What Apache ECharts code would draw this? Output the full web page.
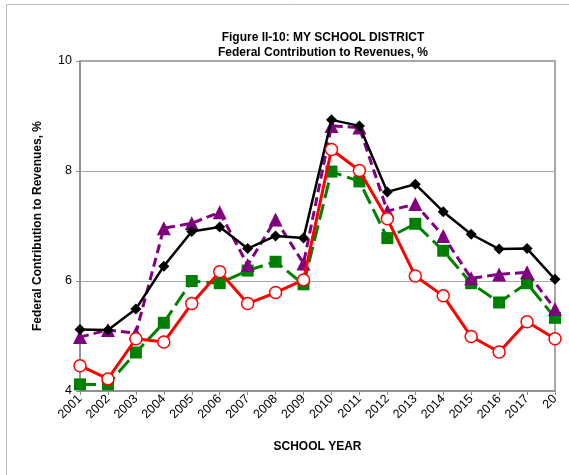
<!DOCTYPE html>
<html>
<head>
<meta charset="utf-8">
<script src="https://cdn.jsdelivr.net/npm/echarts@6/dist/echarts.min.js"></script>
<style>
  html, body { margin: 0; padding: 0; background: #fff; }
  #chart { width: 569px; height: 475px; }
</style>
</head>
<body>
<div id="chart"></div>
<script>
// school years on the x axis (last label is cut short in the original)
const years = ['2001', '2002', '2003', '2004', '2005', '2006', '2007', '2008', '2009',
  '2010', '2011', '2012', '2013', '2014', '2015', '2016', '2017', '20'];

// four series, federal share of revenues in %
const blackSeries = [5.12, 5.11, 5.49, 6.27, 6.90, 6.98, 6.59, 6.82, 6.78,
  8.93, 8.82, 7.62, 7.76, 7.26, 6.85, 6.58, 6.59, 6.03];
const purpleSeries = [4.98, 5.11, 5.05, 6.96, 7.05, 7.25, 6.29, 7.12, 6.32,
  8.82, 8.79, 7.27, 7.40, 6.82, 6.05, 6.12, 6.16, 5.49];
const greenSeries = [4.12, 4.12, 4.70, 5.24, 6.00, 5.96, 6.19, 6.35, 5.94,
  7.99, 7.81, 6.78, 7.04, 6.55, 5.96, 5.61, 5.96, 5.33];
const redSeries = [4.46, 4.22, 4.95, 4.89, 5.59, 6.17, 5.59, 5.79, 6.02,
  8.39, 8.01, 7.13, 6.09, 5.73, 4.99, 4.71, 5.26, 4.95];

const yTicks = { min: 4, max: 10, interval: 2 };

const chart = echarts.init(document.getElementById('chart'));

const option = {
  animation: false,
  textStyle: { fontFamily: 'Liberation Sans, Arial, sans-serif' },
  graphic: [{
    type: 'rect',
    shape: { x: 6.5, y: 4.5, width: 700, height: 700 },
    style: { fill: 'none', stroke: '#bdbdbd', lineWidth: 1 },
    silent: true
  }],
  title: {
    text: 'Figure II-10: MY SCHOOL DISTRICT\nFederal Contribution to Revenues, %',
    left: 318,
    top: 25,
    textAlign: 'center',
    textStyle: { fontSize: 12, fontWeight: 'bold', color: '#000', lineHeight: 15 }
  },
  grid: {
    left: 80,
    right: 14,
    top: 61,
    bottom: 84,
    show: true,
    borderColor: '#8c8c8c',
    borderWidth: 1.5
  },
  xAxis: {
    type: 'category',
    data: years,
    boundaryGap: false,
    name: 'SCHOOL YEAR',
    nameLocation: 'middle',
    nameGap: 50,
    nameTextStyle: { fontSize: 12, fontWeight: 'bold', color: '#000' },
    axisLine: { lineStyle: { color: '#8c8c8c', width: 1.5 } },
    axisTick: { show: true, length: 4, alignWithLabel: true, lineStyle: { color: '#8c8c8c' } },
    axisLabel: { rotate: 45, fontSize: 12.5, color: '#000', margin: 6, interval: 0 },
    splitLine: { show: false }
  },
  yAxis: {
    type: 'value',
    min: yTicks.min,
    max: yTicks.max,
    interval: yTicks.interval,
    name: 'Federal Contribution to Revenues, %',
    nameLocation: 'middle',
    nameGap: 36,
    nameTextStyle: { fontSize: 12, fontWeight: 'bold', color: '#000' },
    axisLine: { show: true, lineStyle: { color: '#8c8c8c', width: 1.5 } },
    axisTick: { show: true, length: 4, lineStyle: { color: '#8c8c8c' } },
    axisLabel: { fontSize: 12.5, color: '#000', margin: 8 },
    splitLine: { show: true, lineStyle: { color: '#a6a6a6', width: 1 } }
  },
  series: [
    {
      name: 'Green',
      type: 'line',
      data: greenSeries,
      symbol: 'rect',
      symbolSize: 12,
      itemStyle: { color: '#008000' },
      lineStyle: { color: '#008000', width: 3, type: [16, 6] },
      z: 2
    },
    {
      name: 'Purple',
      type: 'line',
      data: purpleSeries,
      symbol: 'triangle',
      symbolSize: 14,
      itemStyle: { color: '#800080' },
      lineStyle: { color: '#800080', width: 3, type: [9, 5] },
      z: 3
    },
    {
      name: 'Black',
      type: 'line',
      data: blackSeries,
      symbol: 'diamond',
      symbolSize: 11,
      itemStyle: { color: '#000' },
      lineStyle: { color: '#000', width: 2.5 },
      z: 4
    },
    {
      name: 'Red',
      type: 'line',
      data: redSeries,
      symbol: 'circle',
      symbolSize: 12,
      itemStyle: { color: '#fff', borderColor: '#ff0000', borderWidth: 1.5 },
      lineStyle: { color: '#ff0000', width: 3 },
      z: 5
    }
  ]
};

chart.setOption(option);
</script>
</body>
</html>
